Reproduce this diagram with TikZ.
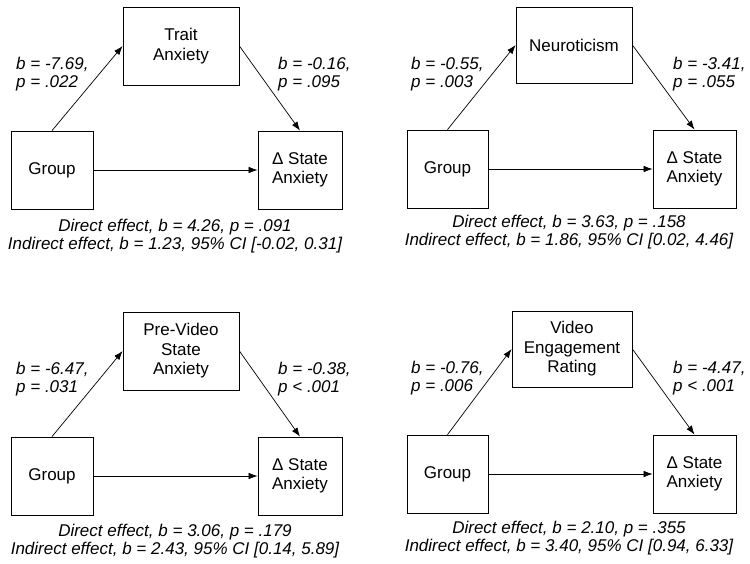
\documentclass[tikz,border=0pt]{standalone}
\usepackage{fontspec}
\setmainfont{Liberation Sans}
\usetikzlibrary{arrows.meta}
\begin{document}
\begin{tikzpicture}[x=1pt,y=-1pt,
 box/.style={draw, line width=0.8pt, inner sep=0pt, align=center, font=\fontsize{17}{19.5}\selectfont},
 lbl/.style={inner sep=0pt, align=left, anchor=west, font=\fontsize{17}{18}\selectfont\itshape},
 eff/.style={inner sep=0pt, align=center, font=\fontsize{17}{18}\selectfont\itshape},
 arr/.style={-{Latex[length=9pt,width=6.5pt]}, line width=0.7pt}]
\useasboundingbox (0,0) rectangle (750,563);
\fill[white] (0,0) rectangle (750,563);
% ---------- panel 1 ----------
\node[box, minimum width=116pt, minimum height=78pt] (m1) at (181,46) {Trait\\Anxiety};
\node[box, minimum width=82pt, minimum height=78pt] (g1) at (52,170) {Group};
\node[box, minimum width=84pt, minimum height=78pt] (y1) at (300,170) {Δ State\\Anxiety};
\draw[arr] (g1.north) -- (m1.west);
\draw[arr] (m1.east) -- (y1.north);
\draw[arr] (g1.east) -- (y1.west);
\node[lbl] (a1) at (16,74) {b = -7.69,\\p = .022};
\node[lbl] (b1) at (278,74) {b = -0.16,\\p = .095};
\node[eff] (e1) at (175,236) {Direct effect, b = 4.26, p = .091\\Indirect effect, b = 1.23, 95\% CI [-0.02, 0.31]};
% ---------- panel 2 ----------
\node[box, minimum width=116pt, minimum height=76pt] (m2) at (574,45) {Neuroticism};
\node[box, minimum width=81pt, minimum height=78pt] (g2) at (447.5,169) {Group};
\node[box, minimum width=83pt, minimum height=78pt] (y2) at (694.5,169) {Δ State\\Anxiety};
\draw[arr] (g2.north) -- (m2.west);
\draw[arr] (m2.east) -- (y2.north);
\draw[arr] (g2.east) -- (y2.west);
\node[lbl] (a2) at (411,74) {b = -0.55,\\p = .003};
\node[lbl] (b2) at (673,74) {b = -3.41,\\p = .055};
\node[eff] (e2) at (569,232) {Direct effect, b = 3.63, p = .158\\Indirect effect, b = 1.86, 95\% CI [0.02, 4.46]};
% ---------- panel 3 ----------
\node[box, minimum width=116pt, minimum height=78pt] (m3) at (181,351) {Pre-Video\\State\\Anxiety};
\node[box, minimum width=82pt, minimum height=78pt] (g3) at (52,476) {Group};
\node[box, minimum width=84pt, minimum height=78pt] (y3) at (300,476) {Δ State\\Anxiety};
\draw[arr] (g3.north) -- (m3.west);
\draw[arr] (m3.east) -- (y3.north);
\draw[arr] (g3.east) -- (y3.west);
\node[lbl] (a3) at (16,379) {b = -6.47,\\p = .031};
\node[lbl] (b3) at (278,379) {b = -0.38,\\p < .001};
\node[eff] (e3) at (175,541) {Direct effect, b = 3.06, p = .179\\Indirect effect, b = 2.43, 95\% CI [0.14, 5.89]};
% ---------- panel 4 ----------
\node[box, minimum width=120pt, minimum height=76pt] (m4) at (572,349) {Video\\Engagement\\Rating};
\node[box, minimum width=81pt, minimum height=78pt] (g4) at (447.5,474) {Group};
\node[box, minimum width=83pt, minimum height=78pt] (y4) at (694.5,474) {Δ State\\Anxiety};
\draw[arr] (g4.north) -- (m4.west);
\draw[arr] (m4.east) -- (y4.north);
\draw[arr] (g4.east) -- (y4.west);
\node[lbl] (a4) at (411,378.5) {b = -0.76,\\p = .006};
\node[lbl] (b4) at (673,378.5) {b = -4.47,\\p < .001};
\node[eff] (e4) at (569,538.5) {Direct effect, b = 2.10, p = .355\\Indirect effect, b = 3.40, 95\% CI [0.94, 6.33]};
\end{tikzpicture}
\end{document}
